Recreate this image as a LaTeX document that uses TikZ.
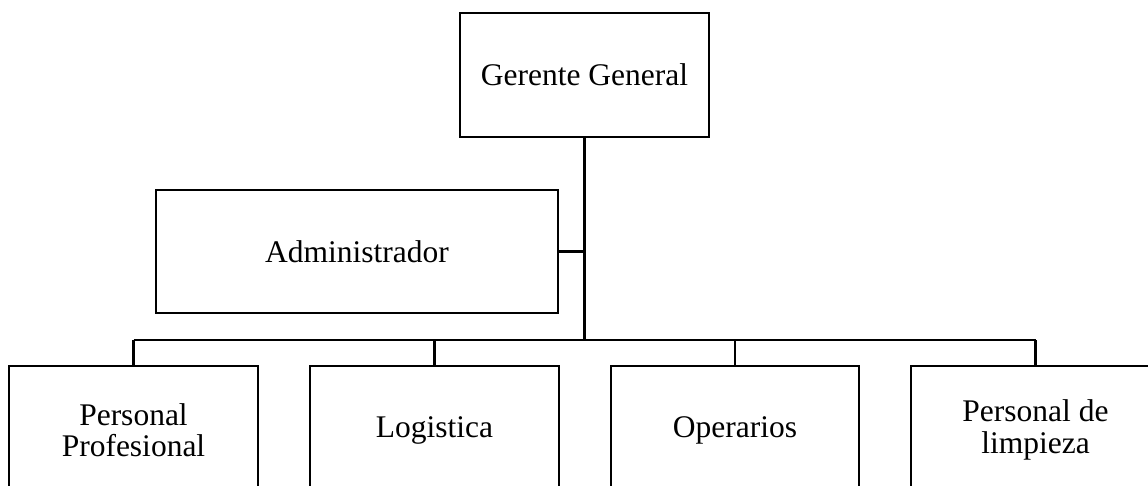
\documentclass[tikz,border=0pt]{standalone}
\usepackage{fontspec}
\setmainfont{Liberation Serif}
\begin{document}
\begin{tikzpicture}[x=1pt,y=-1pt,
  box/.style={draw,line width=2.2pt,rectangle,inner sep=0pt,align=center,
    font=\fontsize{31.5}{31.5}\selectfont},
  link/.style={line width=2.2pt}]
\useasboundingbox (0,0) rectangle (1148,485);
\node[box,minimum width=249pt,minimum height=124pt] (gg) at (584.5,75) {Gerente General};
\node[box,minimum width=402pt,minimum height=123pt] (adm) at (357,251.5) {Administrador};
\node[box,minimum width=249pt,minimum height=128pt] (p1) at (133.5,430) {Personal\\Profesional};
\node[box,minimum width=249pt,minimum height=128pt] (p2) at (434.5,430) {Logistica};
\node[box,minimum width=248pt,minimum height=128pt] (p3) at (735,430) {Operarios};
\node[box,minimum width=249pt,minimum height=128pt] (p4) at (1035.5,430) {Personal de\\limpieza};
\coordinate (bus) at (584.5,340);
\coordinate (b1) at (p1.north |- bus);
\coordinate (b4) at (p4.north |- bus);
\draw[line width=3.2pt] (gg.south) -- (bus);
\draw[link] (adm.east) -- (adm.east -| bus);
\draw[line width=2.8pt] (b1) -- (b4);
\draw[link] (b1) -- (p1.north);
\draw[link] (p2.north |- bus) -- (p2.north);
\draw[link] (p3.north |- bus) -- (p3.north);
\draw[link] (b4) -- (p4.north);
\end{tikzpicture}
\end{document}
